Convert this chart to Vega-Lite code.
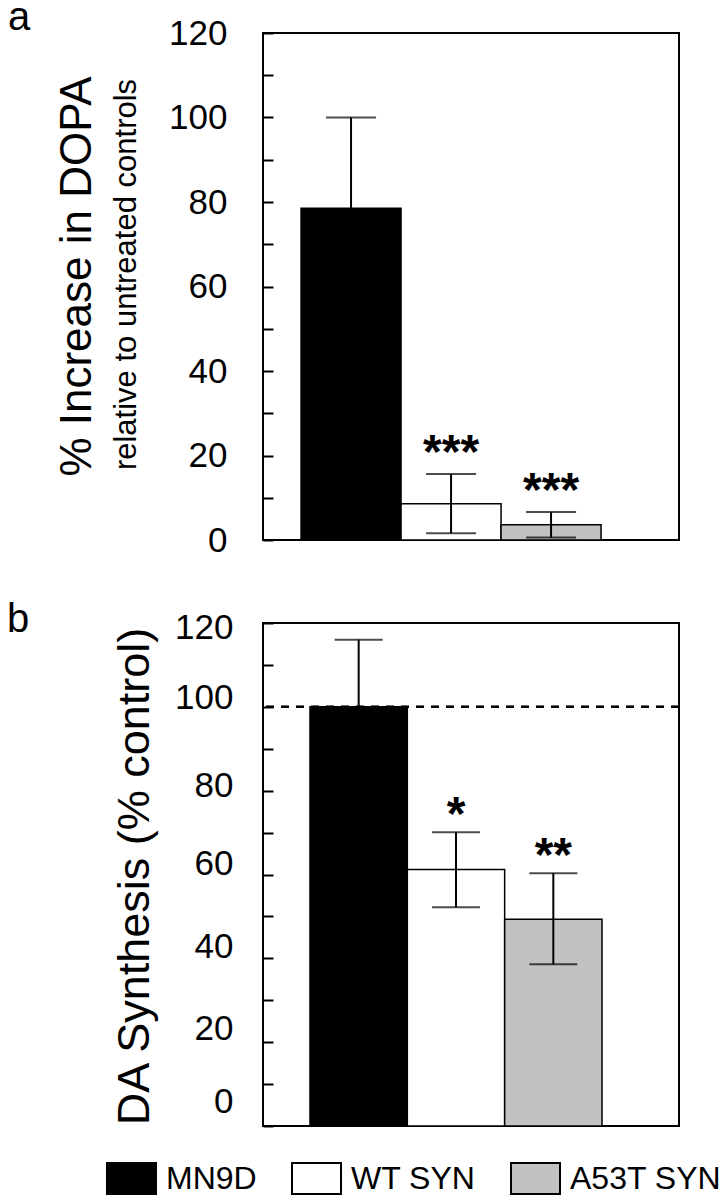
{
  "$schema": "https://vega.github.io/schema/vega-lite/v6.json",
  "padding": {"left": 6, "top": -3, "right": 0, "bottom": 0},
  "spacing": 39,
  "config": {
    "font": "Liberation Sans",
    "view": {"stroke": "black", "strokeWidth": 2},
    "axis": {"grid": false, "labelColor": "black", "titleColor": "black"},
    "text": {"color": "black"}
  },
  "resolve": {"scale": {"color": "independent"}},
  "vconcat": [
    {
      "width": 416,
      "height": 507,
      "title": {"text": "a", "anchor": "start", "frame": "group", "fontSize": 40, "fontWeight": "normal", "baseline": "alphabetic", "dx": -255, "dy": 44, "offset": -10},
      "data": {"values": [
        {"group": "MN9D", "value": 78.5, "lo": 57, "hi": 100, "stars": ""},
        {"group": "WT SYN", "value": 8.6, "lo": 1.6, "hi": 15.6, "stars": "***"},
        {"group": "A53T SYN", "value": 3.6, "lo": 0.6, "hi": 6.6, "stars": "***"}
      ]},
      "layer": [
        {
          "layer": [
            {
              "mark": {"type": "bar", "stroke": "black", "strokeWidth": 1.5},
              "encoding": {
                "x": {"field": "group", "type": "nominal", "sort": null,
                      "scale": {"domain": ["MN9D", "WT SYN", "A53T SYN"], "paddingInner": 0, "paddingOuter": 0.58, "align": 0.328},
                      "axis": null},
                "y": {"field": "value", "type": "quantitative",
                      "scale": {"domain": [0, 120], "nice": false},
                      "axis": {
                        "values": [0,5,10,15,20,25,30,35,40,45,50,55,60,65,70,75,80,85,90,95,100,105,110,115,120],
                        "labelExpr": "datum.value % 20 === 0 ? datum.label : ''",
                        "labelOverlap": false,
                        "tickSize": -10, "tickWidth": 2, "tickColor": "black",
                        "labelPadding": 46, "labelFontSize": 35,
                        "domain": false,
                        "title": "% Increase in DOPA",
                        "titleFontSize": 44, "titleFontWeight": "normal",
                        "titleX": -173, "titleY": 243, "titleAngle": -90,
                        "titleBaseline": "alphabetic", "titleAlign": "center"
                      }},
                "color": {"field": "group", "type": "nominal",
                          "scale": {"domain": ["MN9D", "WT SYN", "A53T SYN"], "range": ["black", "white", "#c2c2c2"]},
                          "legend": null}
              }
            },
            {
              "mark": {"type": "tick", "color": "black", "thickness": 2, "size": 50},
              "encoding": {
                "x": {"field": "group", "type": "nominal"},
                "y": {"field": "hi", "type": "quantitative"}
              }
            },
            {
              "mark": {"type": "tick", "color": "black", "thickness": 2, "size": 50},
              "encoding": {
                "x": {"field": "group", "type": "nominal"},
                "y": {"field": "lo", "type": "quantitative"}
              }
            },
            {
              "mark": {"type": "text", "fontSize": 48, "fontWeight": "bold", "baseline": "alphabetic", "dy": -6},
              "encoding": {
                "x": {"field": "group", "type": "nominal"},
                "y": {"field": "hi", "type": "quantitative"},
                "text": {"field": "stars"}
              }
            }
          ]
        },
        {
          "mark": {"type": "rule", "color": "black", "strokeWidth": 2},
          "encoding": {
            "x": {"field": "group", "type": "nominal"},
            "y": {"field": "lo", "type": "quantitative",
                  "scale": {"domain": [0, 120], "nice": false},
                  "axis": {"orient": "left", "title": "relative to untreated controls",
                           "labels": false, "ticks": false, "domain": false, "grid": false,
                           "titleFontSize": 31, "titleFontWeight": "normal",
                           "titleX": -128, "titleY": 241, "titleAngle": -90,
                           "titleBaseline": "alphabetic", "titleAlign": "center"}},
            "y2": {"field": "hi"}
          }
        }
      ],
      "resolve": {"scale": {"y": "independent"}}
    },
    {
      "width": 416,
      "height": 503,
      "title": {"text": "b", "anchor": "start", "frame": "group", "fontSize": 40, "fontWeight": "normal", "baseline": "alphabetic", "dx": -256, "dy": 52, "offset": -20},
      "data": {"values": [
        {"group": "MN9D", "value": 100, "lo": 84, "hi": 116, "stars": ""},
        {"group": "WT SYN", "value": 61.2, "lo": 52.2, "hi": 70.1, "stars": "*"},
        {"group": "A53T SYN", "value": 49.3, "lo": 38.6, "hi": 60.3, "stars": "**"}
      ]},
      "layer": [
        {
          "mark": {"type": "rule", "color": "black", "strokeWidth": 2, "strokeDash": [8, 7]},
          "encoding": {"y": {"datum": 100, "type": "quantitative"}}
        },
        {
          "mark": {"type": "bar", "stroke": "black", "strokeWidth": 1.5},
          "encoding": {
            "x": {"field": "group", "type": "nominal", "sort": null,
                  "scale": {"domain": ["MN9D", "WT SYN", "A53T SYN"], "paddingInner": 0, "paddingOuter": 0.637, "align": 0.379},
                  "axis": null},
            "y": {"field": "value", "type": "quantitative",
                  "scale": {"domain": [0, 120], "nice": false},
                  "axis": {
                    "values": [0,10,20,30,40,50,60,70,80,90,100,110,120],
                    "labelExpr": "datum.value % 20 === 0 ? datum.label : ''",
                    "labelOverlap": false,
                    "labelOffset": {"condition": [
                      {"test": "datum.value == 0", "value": -25},
                      {"test": "datum.value == 20", "value": -14},
                      {"test": "datum.value == 40", "value": -12},
                      {"test": "datum.value == 60", "value": -11},
                      {"test": "datum.value == 80", "value": -5},
                      {"test": "datum.value == 100", "value": -9}
                    ], "value": 4},
                    "tickSize": -10, "tickWidth": 2, "tickColor": "black",
                    "labelPadding": 40, "labelFontSize": 35,
                    "domain": false,
                    "title": "DA Synthesis (% control)",
                    "titleFontSize": 45, "titleFontWeight": "normal",
                    "titleX": -115, "titleY": 253, "titleAngle": -90,
                    "titleBaseline": "alphabetic", "titleAlign": "center"
                  }},
            "color": {"field": "group", "type": "nominal",
                      "scale": {"domain": ["MN9D", "WT SYN", "A53T SYN"], "range": ["black", "white", "#c2c2c2"]},
                      "legend": {
                        "orient": "none", "legendX": -157, "legendY": 530,
                        "direction": "horizontal", "title": null,
                        "symbolType": "M-1,-0.63L1,-0.63L1,0.63L-1,0.63Z",
                        "symbolSize": 2401, "symbolStrokeColor": "black", "symbolStrokeWidth": 2,
                        "labelFontSize": 32, "labelOffset": 9, "columnPadding": 31,
                        "labelColor": "black", "padding": 0, "labelLimit": 400
                      }}
          }
        },
        {
          "mark": {"type": "rule", "color": "black", "strokeWidth": 2},
          "encoding": {
            "x": {"field": "group", "type": "nominal"},
            "y": {"field": "lo", "type": "quantitative"},
            "y2": {"field": "hi"}
          }
        },
        {
          "mark": {"type": "tick", "color": "black", "thickness": 2, "size": 48},
          "encoding": {
            "x": {"field": "group", "type": "nominal"},
            "y": {"field": "hi", "type": "quantitative"}
          }
        },
        {
          "mark": {"type": "tick", "color": "black", "thickness": 2, "size": 48},
          "encoding": {
            "x": {"field": "group", "type": "nominal"},
            "y": {"field": "lo", "type": "quantitative"}
          }
        },
        {
          "mark": {"type": "text", "fontSize": 48, "fontWeight": "bold", "baseline": "alphabetic", "dy": -2},
          "encoding": {
            "x": {"field": "group", "type": "nominal"},
            "y": {"field": "hi", "type": "quantitative"},
            "text": {"field": "stars"}
          }
        }
      ]
    }
  ]
}
